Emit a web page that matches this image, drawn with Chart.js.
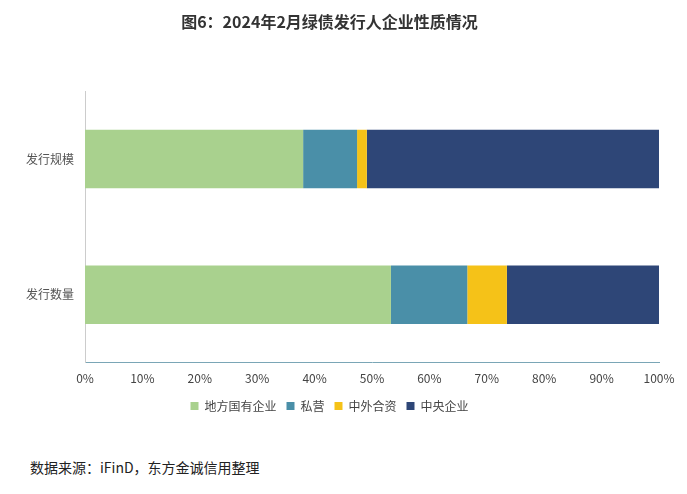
<!DOCTYPE html>
<html><head><meta charset="utf-8">
<script src="https://cdn.jsdelivr.net/npm/chart.js@4"></script>
<style>
body{margin:0;background:#fff;font-family:"Noto Sans CJK SC",sans-serif;}
#wrap{position:absolute;left:0;top:0;width:687px;height:422px;}
#src{position:absolute;left:30px;top:457px;font-size:14px;color:#222;}
</style></head><body>
<div id="wrap"><canvas id="c"></canvas></div>
<div id="src">数据来源：iFinD，东方金诚信用整理</div>
<script>
const categories=["发行规模","发行数量"];
const seriesNames=["地方国有企业","私营","中外合资","中央企业"];
const local=[38.0,53.3];
const priv=[9.4,13.3];
const joint=[1.7,6.9];
const central=[50.9,26.5];
const colors=["#a9d18e","#4a8fa8","#f5c218","#2e4677"];
const vals=[local,priv,joint,central];
new Chart(document.getElementById('c'),{
 type:'bar',
 data:{labels:categories,datasets:seriesNames.map((n,i)=>({label:n,data:vals[i],backgroundColor:colors[i],barPercentage:0.86,categoryPercentage:0.5}))},
 options:{indexAxis:'y',responsive:true,maintainAspectRatio:false,animation:false,
  layout:{padding:{left:0,right:28,top:0}},
  plugins:{
   title:{display:true,text:'图6：2024年2月绿债发行人企业性质情况',font:{family:'Noto Sans CJK SC',size:16,weight:'bold'},color:'#333',padding:{top:12,bottom:60}},
   legend:{position:'bottom',labels:{boxWidth:8,boxHeight:8,font:{family:'Noto Sans CJK SC',size:12},color:'#444',padding:10},onClick:null},
   tooltip:{enabled:false}},
  scales:{
   x:{stacked:true,min:0,max:100,ticks:{stepSize:10,callback:v=>v+'%',color:'#444',font:{family:'Noto Sans CJK SC',size:12},padding:4},
      grid:{display:false,drawTicks:true,tickLength:5,color:'#7aa6b6'},border:{color:'#7aa6b6'}},
   y:{stacked:true,afterFit:s=>{s.width=85;},ticks:{color:'#555',font:{family:'Noto Sans CJK SC',size:12}},grid:{display:false},border:{color:'#ccc'}}
  }}
});
</script></body></html>
